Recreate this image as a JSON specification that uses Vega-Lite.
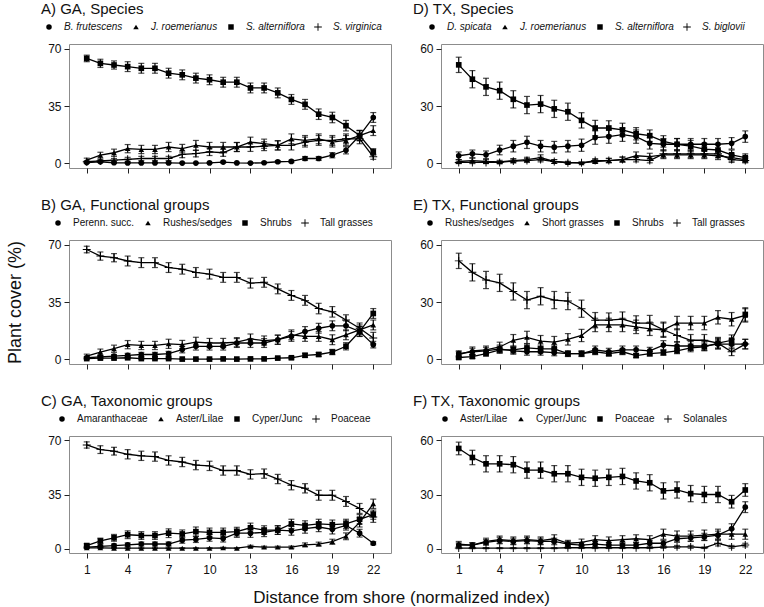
{
  "$schema": "https://vega.github.io/schema/vega-lite/v6.json",
  "padding": {"left": 6, "top": 1, "right": 2, "bottom": 0},
  "data": {
    "values": [
      {"p":"A","s":"B. frutescens","x":1,"y":0.5,"e":0.5},{"p":"A","s":"B. frutescens","x":2,"y":1,"e":0.5},{"p":"A","s":"B. frutescens","x":3,"y":0.4,"e":0.3},{"p":"A","s":"B. frutescens","x":4,"y":0.3,"e":0.3},{"p":"A","s":"B. frutescens","x":5,"y":0.3,"e":0.3},{"p":"A","s":"B. frutescens","x":6,"y":0.3,"e":0.3},{"p":"A","s":"B. frutescens","x":7,"y":0.3,"e":0.3},{"p":"A","s":"B. frutescens","x":8,"y":0.2,"e":0.2},{"p":"A","s":"B. frutescens","x":9,"y":0.2,"e":0.2},{"p":"A","s":"B. frutescens","x":10,"y":0.3,"e":0.3},{"p":"A","s":"B. frutescens","x":11,"y":0.8,"e":0.5},{"p":"A","s":"B. frutescens","x":12,"y":0.3,"e":0.3},{"p":"A","s":"B. frutescens","x":13,"y":0.2,"e":0.2},{"p":"A","s":"B. frutescens","x":14,"y":0.4,"e":0.4},{"p":"A","s":"B. frutescens","x":15,"y":1,"e":0.6},{"p":"A","s":"B. frutescens","x":16,"y":1.2,"e":0.7},{"p":"A","s":"B. frutescens","x":17,"y":3,"e":1.2},{"p":"A","s":"B. frutescens","x":18,"y":3,"e":1.2},{"p":"A","s":"B. frutescens","x":19,"y":5,"e":1.6},{"p":"A","s":"B. frutescens","x":20,"y":8,"e":2.2},{"p":"A","s":"B. frutescens","x":21,"y":17,"e":3},{"p":"A","s":"B. frutescens","x":22,"y":28,"e":3},
      {"p":"A","s":"J. roemerianus","x":1,"y":2,"e":1.2},{"p":"A","s":"J. roemerianus","x":2,"y":5,"e":1.8},{"p":"A","s":"J. roemerianus","x":3,"y":6.5,"e":2.2},{"p":"A","s":"J. roemerianus","x":4,"y":9,"e":2.5},{"p":"A","s":"J. roemerianus","x":5,"y":8.5,"e":2.5},{"p":"A","s":"J. roemerianus","x":6,"y":8.5,"e":2.5},{"p":"A","s":"J. roemerianus","x":7,"y":10,"e":2.8},{"p":"A","s":"J. roemerianus","x":8,"y":9,"e":2.6},{"p":"A","s":"J. roemerianus","x":9,"y":11,"e":3},{"p":"A","s":"J. roemerianus","x":10,"y":10,"e":2.8},{"p":"A","s":"J. roemerianus","x":11,"y":10,"e":2.8},{"p":"A","s":"J. roemerianus","x":12,"y":10,"e":2.8},{"p":"A","s":"J. roemerianus","x":13,"y":13,"e":3},{"p":"A","s":"J. roemerianus","x":14,"y":12,"e":2.8},{"p":"A","s":"J. roemerianus","x":15,"y":11,"e":2.8},{"p":"A","s":"J. roemerianus","x":16,"y":15,"e":3},{"p":"A","s":"J. roemerianus","x":17,"y":14,"e":3},{"p":"A","s":"J. roemerianus","x":18,"y":15,"e":3},{"p":"A","s":"J. roemerianus","x":19,"y":13,"e":3},{"p":"A","s":"J. roemerianus","x":20,"y":14,"e":3},{"p":"A","s":"J. roemerianus","x":21,"y":17,"e":3},{"p":"A","s":"J. roemerianus","x":22,"y":20,"e":3},
      {"p":"A","s":"S. alterniflora","x":1,"y":64,"e":2},{"p":"A","s":"S. alterniflora","x":2,"y":61,"e":2.5},{"p":"A","s":"S. alterniflora","x":3,"y":60,"e":2.5},{"p":"A","s":"S. alterniflora","x":4,"y":59,"e":3},{"p":"A","s":"S. alterniflora","x":5,"y":58,"e":3},{"p":"A","s":"S. alterniflora","x":6,"y":58,"e":3},{"p":"A","s":"S. alterniflora","x":7,"y":55,"e":3},{"p":"A","s":"S. alterniflora","x":8,"y":54,"e":3},{"p":"A","s":"S. alterniflora","x":9,"y":52,"e":3},{"p":"A","s":"S. alterniflora","x":10,"y":51,"e":3},{"p":"A","s":"S. alterniflora","x":11,"y":49.5,"e":3},{"p":"A","s":"S. alterniflora","x":12,"y":49.5,"e":3},{"p":"A","s":"S. alterniflora","x":13,"y":46,"e":3},{"p":"A","s":"S. alterniflora","x":14,"y":46,"e":3},{"p":"A","s":"S. alterniflora","x":15,"y":43,"e":3},{"p":"A","s":"S. alterniflora","x":16,"y":39,"e":3},{"p":"A","s":"S. alterniflora","x":17,"y":36,"e":3},{"p":"A","s":"S. alterniflora","x":18,"y":30,"e":3.2},{"p":"A","s":"S. alterniflora","x":19,"y":28,"e":3.2},{"p":"A","s":"S. alterniflora","x":20,"y":23,"e":3.2},{"p":"A","s":"S. alterniflora","x":21,"y":17,"e":3.2},{"p":"A","s":"S. alterniflora","x":22,"y":7,"e":2},
      {"p":"A","s":"S. virginica","x":1,"y":1,"e":0.6},{"p":"A","s":"S. virginica","x":2,"y":1.5,"e":0.8},{"p":"A","s":"S. virginica","x":3,"y":2,"e":1},{"p":"A","s":"S. virginica","x":4,"y":2.5,"e":1.2},{"p":"A","s":"S. virginica","x":5,"y":3,"e":1.3},{"p":"A","s":"S. virginica","x":6,"y":3,"e":1.3},{"p":"A","s":"S. virginica","x":7,"y":3,"e":1.3},{"p":"A","s":"S. virginica","x":8,"y":5.5,"e":2},{"p":"A","s":"S. virginica","x":9,"y":6,"e":2},{"p":"A","s":"S. virginica","x":10,"y":7,"e":2.2},{"p":"A","s":"S. virginica","x":11,"y":6.5,"e":2.2},{"p":"A","s":"S. virginica","x":12,"y":10,"e":2.7},{"p":"A","s":"S. virginica","x":13,"y":10,"e":2.7},{"p":"A","s":"S. virginica","x":14,"y":10.5,"e":2.7},{"p":"A","s":"S. virginica","x":15,"y":11,"e":2.8},{"p":"A","s":"S. virginica","x":16,"y":11,"e":2.8},{"p":"A","s":"S. virginica","x":17,"y":13,"e":3},{"p":"A","s":"S. virginica","x":18,"y":14,"e":3},{"p":"A","s":"S. virginica","x":19,"y":14,"e":3},{"p":"A","s":"S. virginica","x":20,"y":15,"e":3},{"p":"A","s":"S. virginica","x":21,"y":15,"e":3},{"p":"A","s":"S. virginica","x":22,"y":4,"e":1.5},

      {"p":"B","s":"Perenn. succ.","x":1,"y":1,"e":0.6},{"p":"B","s":"Perenn. succ.","x":2,"y":1.5,"e":0.8},{"p":"B","s":"Perenn. succ.","x":3,"y":2,"e":1},{"p":"B","s":"Perenn. succ.","x":4,"y":2.5,"e":1.2},{"p":"B","s":"Perenn. succ.","x":5,"y":3,"e":1.3},{"p":"B","s":"Perenn. succ.","x":6,"y":3,"e":1.3},{"p":"B","s":"Perenn. succ.","x":7,"y":3.5,"e":1.4},{"p":"B","s":"Perenn. succ.","x":8,"y":6,"e":2},{"p":"B","s":"Perenn. succ.","x":9,"y":8,"e":2.3},{"p":"B","s":"Perenn. succ.","x":10,"y":8,"e":2.3},{"p":"B","s":"Perenn. succ.","x":11,"y":8,"e":2.3},{"p":"B","s":"Perenn. succ.","x":12,"y":10,"e":2.7},{"p":"B","s":"Perenn. succ.","x":13,"y":10,"e":2.7},{"p":"B","s":"Perenn. succ.","x":14,"y":10,"e":2.7},{"p":"B","s":"Perenn. succ.","x":15,"y":12,"e":2.8},{"p":"B","s":"Perenn. succ.","x":16,"y":14,"e":3},{"p":"B","s":"Perenn. succ.","x":17,"y":17,"e":3},{"p":"B","s":"Perenn. succ.","x":18,"y":19,"e":3},{"p":"B","s":"Perenn. succ.","x":19,"y":20.5,"e":3},{"p":"B","s":"Perenn. succ.","x":20,"y":20.5,"e":3},{"p":"B","s":"Perenn. succ.","x":21,"y":17,"e":3},{"p":"B","s":"Perenn. succ.","x":22,"y":9,"e":2},
      {"p":"B","s":"Rushes/sedges","x":1,"y":2,"e":1.2},{"p":"B","s":"Rushes/sedges","x":2,"y":4.5,"e":1.8},{"p":"B","s":"Rushes/sedges","x":3,"y":6.5,"e":2.2},{"p":"B","s":"Rushes/sedges","x":4,"y":9,"e":2.5},{"p":"B","s":"Rushes/sedges","x":5,"y":8.5,"e":2.5},{"p":"B","s":"Rushes/sedges","x":6,"y":8.5,"e":2.5},{"p":"B","s":"Rushes/sedges","x":7,"y":9.5,"e":2.8},{"p":"B","s":"Rushes/sedges","x":8,"y":9,"e":2.6},{"p":"B","s":"Rushes/sedges","x":9,"y":10.5,"e":3},{"p":"B","s":"Rushes/sedges","x":10,"y":10,"e":2.8},{"p":"B","s":"Rushes/sedges","x":11,"y":10,"e":2.8},{"p":"B","s":"Rushes/sedges","x":12,"y":10.5,"e":2.8},{"p":"B","s":"Rushes/sedges","x":13,"y":12.5,"e":3},{"p":"B","s":"Rushes/sedges","x":14,"y":11.5,"e":2.8},{"p":"B","s":"Rushes/sedges","x":15,"y":12,"e":2.8},{"p":"B","s":"Rushes/sedges","x":16,"y":15,"e":3},{"p":"B","s":"Rushes/sedges","x":17,"y":14,"e":3},{"p":"B","s":"Rushes/sedges","x":18,"y":14,"e":3},{"p":"B","s":"Rushes/sedges","x":19,"y":12,"e":3},{"p":"B","s":"Rushes/sedges","x":20,"y":15,"e":3},{"p":"B","s":"Rushes/sedges","x":21,"y":18,"e":3},{"p":"B","s":"Rushes/sedges","x":22,"y":21,"e":3},
      {"p":"B","s":"Shrubs","x":1,"y":0.5,"e":0.4},{"p":"B","s":"Shrubs","x":2,"y":0.8,"e":0.5},{"p":"B","s":"Shrubs","x":3,"y":0.8,"e":0.5},{"p":"B","s":"Shrubs","x":4,"y":1,"e":0.6},{"p":"B","s":"Shrubs","x":5,"y":0.5,"e":0.4},{"p":"B","s":"Shrubs","x":6,"y":0.5,"e":0.4},{"p":"B","s":"Shrubs","x":7,"y":0.5,"e":0.4},{"p":"B","s":"Shrubs","x":8,"y":0.2,"e":0.2},{"p":"B","s":"Shrubs","x":9,"y":0.2,"e":0.2},{"p":"B","s":"Shrubs","x":10,"y":0.2,"e":0.2},{"p":"B","s":"Shrubs","x":11,"y":0.3,"e":0.3},{"p":"B","s":"Shrubs","x":12,"y":0.2,"e":0.2},{"p":"B","s":"Shrubs","x":13,"y":0.3,"e":0.3},{"p":"B","s":"Shrubs","x":14,"y":0.3,"e":0.3},{"p":"B","s":"Shrubs","x":15,"y":0.8,"e":0.5},{"p":"B","s":"Shrubs","x":16,"y":1,"e":0.7},{"p":"B","s":"Shrubs","x":17,"y":2.5,"e":1.2},{"p":"B","s":"Shrubs","x":18,"y":3,"e":1.2},{"p":"B","s":"Shrubs","x":19,"y":4.5,"e":1.6},{"p":"B","s":"Shrubs","x":20,"y":8,"e":2.2},{"p":"B","s":"Shrubs","x":21,"y":17,"e":3},{"p":"B","s":"Shrubs","x":22,"y":28,"e":3},
      {"p":"B","s":"Tall grasses","x":1,"y":67,"e":2},{"p":"B","s":"Tall grasses","x":2,"y":63,"e":2.5},{"p":"B","s":"Tall grasses","x":3,"y":62,"e":2.5},{"p":"B","s":"Tall grasses","x":4,"y":60,"e":3},{"p":"B","s":"Tall grasses","x":5,"y":59,"e":3},{"p":"B","s":"Tall grasses","x":6,"y":59,"e":3},{"p":"B","s":"Tall grasses","x":7,"y":56,"e":3},{"p":"B","s":"Tall grasses","x":8,"y":55,"e":3},{"p":"B","s":"Tall grasses","x":9,"y":53,"e":3},{"p":"B","s":"Tall grasses","x":10,"y":52,"e":3},{"p":"B","s":"Tall grasses","x":11,"y":50,"e":3},{"p":"B","s":"Tall grasses","x":12,"y":50,"e":3},{"p":"B","s":"Tall grasses","x":13,"y":46.5,"e":3},{"p":"B","s":"Tall grasses","x":14,"y":47,"e":3},{"p":"B","s":"Tall grasses","x":15,"y":43,"e":3},{"p":"B","s":"Tall grasses","x":16,"y":39,"e":3},{"p":"B","s":"Tall grasses","x":17,"y":36,"e":3},{"p":"B","s":"Tall grasses","x":18,"y":31,"e":3.2},{"p":"B","s":"Tall grasses","x":19,"y":29,"e":3.2},{"p":"B","s":"Tall grasses","x":20,"y":24,"e":3.2},{"p":"B","s":"Tall grasses","x":21,"y":19,"e":3.2},{"p":"B","s":"Tall grasses","x":22,"y":13,"e":3.5},

      {"p":"C","s":"Amaranthaceae","x":1,"y":1,"e":0.6},{"p":"C","s":"Amaranthaceae","x":2,"y":1.5,"e":0.8},{"p":"C","s":"Amaranthaceae","x":3,"y":2,"e":1},{"p":"C","s":"Amaranthaceae","x":4,"y":2.5,"e":1.2},{"p":"C","s":"Amaranthaceae","x":5,"y":3,"e":1.3},{"p":"C","s":"Amaranthaceae","x":6,"y":3,"e":1.3},{"p":"C","s":"Amaranthaceae","x":7,"y":3,"e":1.3},{"p":"C","s":"Amaranthaceae","x":8,"y":5.5,"e":2},{"p":"C","s":"Amaranthaceae","x":9,"y":6,"e":2},{"p":"C","s":"Amaranthaceae","x":10,"y":7,"e":2.2},{"p":"C","s":"Amaranthaceae","x":11,"y":6.5,"e":2.2},{"p":"C","s":"Amaranthaceae","x":12,"y":10,"e":2.7},{"p":"C","s":"Amaranthaceae","x":13,"y":10,"e":2.7},{"p":"C","s":"Amaranthaceae","x":14,"y":10.5,"e":2.7},{"p":"C","s":"Amaranthaceae","x":15,"y":12,"e":2.8},{"p":"C","s":"Amaranthaceae","x":16,"y":11.5,"e":2.8},{"p":"C","s":"Amaranthaceae","x":17,"y":13,"e":3},{"p":"C","s":"Amaranthaceae","x":18,"y":14,"e":3},{"p":"C","s":"Amaranthaceae","x":19,"y":12.5,"e":3},{"p":"C","s":"Amaranthaceae","x":20,"y":15,"e":3},{"p":"C","s":"Amaranthaceae","x":21,"y":10,"e":2.5},{"p":"C","s":"Amaranthaceae","x":22,"y":3.5,"e":1},
      {"p":"C","s":"Aster/Lilae","x":1,"y":0.5,"e":0.4},{"p":"C","s":"Aster/Lilae","x":2,"y":0.5,"e":0.4},{"p":"C","s":"Aster/Lilae","x":3,"y":0.3,"e":0.3},{"p":"C","s":"Aster/Lilae","x":4,"y":0.3,"e":0.3},{"p":"C","s":"Aster/Lilae","x":5,"y":0.3,"e":0.3},{"p":"C","s":"Aster/Lilae","x":6,"y":0.3,"e":0.3},{"p":"C","s":"Aster/Lilae","x":7,"y":0.3,"e":0.3},{"p":"C","s":"Aster/Lilae","x":8,"y":0.3,"e":0.3},{"p":"C","s":"Aster/Lilae","x":9,"y":0.3,"e":0.3},{"p":"C","s":"Aster/Lilae","x":10,"y":0.3,"e":0.3},{"p":"C","s":"Aster/Lilae","x":11,"y":0.5,"e":0.4},{"p":"C","s":"Aster/Lilae","x":12,"y":0.3,"e":0.3},{"p":"C","s":"Aster/Lilae","x":13,"y":1.5,"e":0.7},{"p":"C","s":"Aster/Lilae","x":14,"y":1,"e":0.6},{"p":"C","s":"Aster/Lilae","x":15,"y":1,"e":0.6},{"p":"C","s":"Aster/Lilae","x":16,"y":1,"e":0.7},{"p":"C","s":"Aster/Lilae","x":17,"y":2.5,"e":1.2},{"p":"C","s":"Aster/Lilae","x":18,"y":3,"e":1.2},{"p":"C","s":"Aster/Lilae","x":19,"y":4.5,"e":1.6},{"p":"C","s":"Aster/Lilae","x":20,"y":8,"e":2.2},{"p":"C","s":"Aster/Lilae","x":21,"y":17,"e":3},{"p":"C","s":"Aster/Lilae","x":22,"y":29,"e":3},
      {"p":"C","s":"Cyper/Junc","x":1,"y":2,"e":1.2},{"p":"C","s":"Cyper/Junc","x":2,"y":5,"e":1.8},{"p":"C","s":"Cyper/Junc","x":3,"y":7,"e":2.2},{"p":"C","s":"Cyper/Junc","x":4,"y":9,"e":2.5},{"p":"C","s":"Cyper/Junc","x":5,"y":8.5,"e":2.5},{"p":"C","s":"Cyper/Junc","x":6,"y":8.5,"e":2.5},{"p":"C","s":"Cyper/Junc","x":7,"y":10,"e":2.8},{"p":"C","s":"Cyper/Junc","x":8,"y":9.5,"e":2.6},{"p":"C","s":"Cyper/Junc","x":9,"y":11,"e":3},{"p":"C","s":"Cyper/Junc","x":10,"y":10.5,"e":2.8},{"p":"C","s":"Cyper/Junc","x":11,"y":10.5,"e":2.8},{"p":"C","s":"Cyper/Junc","x":12,"y":11,"e":2.8},{"p":"C","s":"Cyper/Junc","x":13,"y":13.5,"e":3},{"p":"C","s":"Cyper/Junc","x":14,"y":12,"e":2.8},{"p":"C","s":"Cyper/Junc","x":15,"y":12,"e":2.8},{"p":"C","s":"Cyper/Junc","x":16,"y":16,"e":3},{"p":"C","s":"Cyper/Junc","x":17,"y":15,"e":3},{"p":"C","s":"Cyper/Junc","x":18,"y":16,"e":3},{"p":"C","s":"Cyper/Junc","x":19,"y":15.5,"e":3},{"p":"C","s":"Cyper/Junc","x":20,"y":16,"e":3},{"p":"C","s":"Cyper/Junc","x":21,"y":19,"e":3},{"p":"C","s":"Cyper/Junc","x":22,"y":22,"e":3},
      {"p":"C","s":"Poaceae","x":1,"y":67,"e":2},{"p":"C","s":"Poaceae","x":2,"y":64,"e":2.5},{"p":"C","s":"Poaceae","x":3,"y":63,"e":2.5},{"p":"C","s":"Poaceae","x":4,"y":61,"e":3},{"p":"C","s":"Poaceae","x":5,"y":60,"e":3},{"p":"C","s":"Poaceae","x":6,"y":59.5,"e":3},{"p":"C","s":"Poaceae","x":7,"y":57,"e":3},{"p":"C","s":"Poaceae","x":8,"y":56,"e":3},{"p":"C","s":"Poaceae","x":9,"y":54,"e":3},{"p":"C","s":"Poaceae","x":10,"y":53.5,"e":3},{"p":"C","s":"Poaceae","x":11,"y":50.5,"e":3},{"p":"C","s":"Poaceae","x":12,"y":50.5,"e":3},{"p":"C","s":"Poaceae","x":13,"y":48,"e":3},{"p":"C","s":"Poaceae","x":14,"y":48.5,"e":3},{"p":"C","s":"Poaceae","x":15,"y":45,"e":3},{"p":"C","s":"Poaceae","x":16,"y":41,"e":3},{"p":"C","s":"Poaceae","x":17,"y":39,"e":3},{"p":"C","s":"Poaceae","x":18,"y":34.5,"e":3.2},{"p":"C","s":"Poaceae","x":19,"y":34.5,"e":3.2},{"p":"C","s":"Poaceae","x":20,"y":30.5,"e":3.2},{"p":"C","s":"Poaceae","x":21,"y":26,"e":3.2},{"p":"C","s":"Poaceae","x":22,"y":20.5,"e":3.5},

      {"p":"D","s":"D. spicata","x":1,"y":4,"e":2},{"p":"D","s":"D. spicata","x":2,"y":5,"e":2},{"p":"D","s":"D. spicata","x":3,"y":4.5,"e":2},{"p":"D","s":"D. spicata","x":4,"y":7,"e":2.5},{"p":"D","s":"D. spicata","x":5,"y":9,"e":3},{"p":"D","s":"D. spicata","x":6,"y":11,"e":3.2},{"p":"D","s":"D. spicata","x":7,"y":9,"e":3},{"p":"D","s":"D. spicata","x":8,"y":8.5,"e":3},{"p":"D","s":"D. spicata","x":9,"y":9,"e":3},{"p":"D","s":"D. spicata","x":10,"y":9.5,"e":3.2},{"p":"D","s":"D. spicata","x":11,"y":13.5,"e":3.5},{"p":"D","s":"D. spicata","x":12,"y":14,"e":3.5},{"p":"D","s":"D. spicata","x":13,"y":15,"e":3.5},{"p":"D","s":"D. spicata","x":14,"y":14,"e":3.5},{"p":"D","s":"D. spicata","x":15,"y":10.5,"e":3},{"p":"D","s":"D. spicata","x":16,"y":10,"e":3},{"p":"D","s":"D. spicata","x":17,"y":10,"e":3},{"p":"D","s":"D. spicata","x":18,"y":10,"e":3},{"p":"D","s":"D. spicata","x":19,"y":10,"e":3},{"p":"D","s":"D. spicata","x":20,"y":10,"e":3},{"p":"D","s":"D. spicata","x":21,"y":10.5,"e":3},{"p":"D","s":"D. spicata","x":22,"y":14,"e":3},
      {"p":"D","s":"J. roemerianus","x":1,"y":1,"e":1},{"p":"D","s":"J. roemerianus","x":2,"y":1.5,"e":1.2},{"p":"D","s":"J. roemerianus","x":3,"y":1,"e":1},{"p":"D","s":"J. roemerianus","x":4,"y":0.8,"e":0.8},{"p":"D","s":"J. roemerianus","x":5,"y":1.5,"e":1},{"p":"D","s":"J. roemerianus","x":6,"y":2,"e":1.2},{"p":"D","s":"J. roemerianus","x":7,"y":3,"e":1.5},{"p":"D","s":"J. roemerianus","x":8,"y":1,"e":1},{"p":"D","s":"J. roemerianus","x":9,"y":0.5,"e":0.6},{"p":"D","s":"J. roemerianus","x":10,"y":0.3,"e":0.4},{"p":"D","s":"J. roemerianus","x":11,"y":1,"e":1},{"p":"D","s":"J. roemerianus","x":12,"y":1.5,"e":1.2},{"p":"D","s":"J. roemerianus","x":13,"y":2,"e":1.4},{"p":"D","s":"J. roemerianus","x":14,"y":4,"e":2},{"p":"D","s":"J. roemerianus","x":15,"y":3.5,"e":1.8},{"p":"D","s":"J. roemerianus","x":16,"y":4.5,"e":2},{"p":"D","s":"J. roemerianus","x":17,"y":4.5,"e":2},{"p":"D","s":"J. roemerianus","x":18,"y":4.5,"e":2},{"p":"D","s":"J. roemerianus","x":19,"y":4.5,"e":2},{"p":"D","s":"J. roemerianus","x":20,"y":4,"e":2},{"p":"D","s":"J. roemerianus","x":21,"y":3,"e":1.8},{"p":"D","s":"J. roemerianus","x":22,"y":2,"e":1.5},
      {"p":"D","s":"S. alterniflora","x":1,"y":51.5,"e":4},{"p":"D","s":"S. alterniflora","x":2,"y":44,"e":4.5},{"p":"D","s":"S. alterniflora","x":3,"y":40,"e":4.5},{"p":"D","s":"S. alterniflora","x":4,"y":38,"e":4.5},{"p":"D","s":"S. alterniflora","x":5,"y":33.5,"e":4.5},{"p":"D","s":"S. alterniflora","x":6,"y":30.5,"e":4.5},{"p":"D","s":"S. alterniflora","x":7,"y":31,"e":4.5},{"p":"D","s":"S. alterniflora","x":8,"y":28.5,"e":4.5},{"p":"D","s":"S. alterniflora","x":9,"y":27,"e":4.5},{"p":"D","s":"S. alterniflora","x":10,"y":22.5,"e":4},{"p":"D","s":"S. alterniflora","x":11,"y":18.5,"e":4},{"p":"D","s":"S. alterniflora","x":12,"y":18.5,"e":3.8},{"p":"D","s":"S. alterniflora","x":13,"y":17.5,"e":3.5},{"p":"D","s":"S. alterniflora","x":14,"y":15.5,"e":3.2},{"p":"D","s":"S. alterniflora","x":15,"y":14.5,"e":3},{"p":"D","s":"S. alterniflora","x":16,"y":11.5,"e":3},{"p":"D","s":"S. alterniflora","x":17,"y":10,"e":3},{"p":"D","s":"S. alterniflora","x":18,"y":9,"e":3},{"p":"D","s":"S. alterniflora","x":19,"y":7.5,"e":3},{"p":"D","s":"S. alterniflora","x":20,"y":7,"e":3},{"p":"D","s":"S. alterniflora","x":21,"y":4.5,"e":2.5},{"p":"D","s":"S. alterniflora","x":22,"y":3,"e":2},
      {"p":"D","s":"S. biglovii","x":1,"y":0.5,"e":0.6},{"p":"D","s":"S. biglovii","x":2,"y":0.5,"e":0.6},{"p":"D","s":"S. biglovii","x":3,"y":0.5,"e":0.6},{"p":"D","s":"S. biglovii","x":4,"y":0.5,"e":0.6},{"p":"D","s":"S. biglovii","x":5,"y":1.2,"e":1},{"p":"D","s":"S. biglovii","x":6,"y":1.5,"e":1},{"p":"D","s":"S. biglovii","x":7,"y":2,"e":1.2},{"p":"D","s":"S. biglovii","x":8,"y":1,"e":1},{"p":"D","s":"S. biglovii","x":9,"y":0.3,"e":0.5},{"p":"D","s":"S. biglovii","x":10,"y":0.3,"e":0.4},{"p":"D","s":"S. biglovii","x":11,"y":1.5,"e":1},{"p":"D","s":"S. biglovii","x":12,"y":1.5,"e":1},{"p":"D","s":"S. biglovii","x":13,"y":2,"e":1.2},{"p":"D","s":"S. biglovii","x":14,"y":2,"e":1.2},{"p":"D","s":"S. biglovii","x":15,"y":1.5,"e":1.2},{"p":"D","s":"S. biglovii","x":16,"y":5,"e":2},{"p":"D","s":"S. biglovii","x":17,"y":5,"e":2},{"p":"D","s":"S. biglovii","x":18,"y":5,"e":2},{"p":"D","s":"S. biglovii","x":19,"y":5,"e":2},{"p":"D","s":"S. biglovii","x":20,"y":5,"e":2},{"p":"D","s":"S. biglovii","x":21,"y":2,"e":1.5},{"p":"D","s":"S. biglovii","x":22,"y":1.5,"e":1.2},

      {"p":"E","s":"Rushes/sedges","x":1,"y":3,"e":1.5},{"p":"E","s":"Rushes/sedges","x":2,"y":4,"e":1.8},{"p":"E","s":"Rushes/sedges","x":3,"y":4.5,"e":1.8},{"p":"E","s":"Rushes/sedges","x":4,"y":5.5,"e":2},{"p":"E","s":"Rushes/sedges","x":5,"y":4.5,"e":1.8},{"p":"E","s":"Rushes/sedges","x":6,"y":4,"e":1.8},{"p":"E","s":"Rushes/sedges","x":7,"y":4,"e":1.8},{"p":"E","s":"Rushes/sedges","x":8,"y":3.5,"e":1.6},{"p":"E","s":"Rushes/sedges","x":9,"y":3,"e":1.5},{"p":"E","s":"Rushes/sedges","x":10,"y":3,"e":1.5},{"p":"E","s":"Rushes/sedges","x":11,"y":5,"e":2},{"p":"E","s":"Rushes/sedges","x":12,"y":4,"e":1.8},{"p":"E","s":"Rushes/sedges","x":13,"y":5,"e":2},{"p":"E","s":"Rushes/sedges","x":14,"y":5,"e":2},{"p":"E","s":"Rushes/sedges","x":15,"y":4.5,"e":1.8},{"p":"E","s":"Rushes/sedges","x":16,"y":7.5,"e":2.3},{"p":"E","s":"Rushes/sedges","x":17,"y":7,"e":2.3},{"p":"E","s":"Rushes/sedges","x":18,"y":7,"e":2.3},{"p":"E","s":"Rushes/sedges","x":19,"y":7,"e":2.3},{"p":"E","s":"Rushes/sedges","x":20,"y":8,"e":2.5},{"p":"E","s":"Rushes/sedges","x":21,"y":8,"e":2.5},{"p":"E","s":"Rushes/sedges","x":22,"y":8,"e":2.5},
      {"p":"E","s":"Short grasses","x":1,"y":2.5,"e":1.5},{"p":"E","s":"Short grasses","x":2,"y":4.5,"e":2},{"p":"E","s":"Short grasses","x":3,"y":5,"e":2},{"p":"E","s":"Short grasses","x":4,"y":6.5,"e":2.5},{"p":"E","s":"Short grasses","x":5,"y":10,"e":3},{"p":"E","s":"Short grasses","x":6,"y":11.5,"e":3.2},{"p":"E","s":"Short grasses","x":7,"y":9.5,"e":3},{"p":"E","s":"Short grasses","x":8,"y":9,"e":3},{"p":"E","s":"Short grasses","x":9,"y":10.5,"e":3},{"p":"E","s":"Short grasses","x":10,"y":12.5,"e":3.2},{"p":"E","s":"Short grasses","x":11,"y":18,"e":3.5},{"p":"E","s":"Short grasses","x":12,"y":18,"e":3.5},{"p":"E","s":"Short grasses","x":13,"y":18,"e":3.5},{"p":"E","s":"Short grasses","x":14,"y":17,"e":3.5},{"p":"E","s":"Short grasses","x":15,"y":16,"e":3.5},{"p":"E","s":"Short grasses","x":16,"y":15.5,"e":3.5},{"p":"E","s":"Short grasses","x":17,"y":19,"e":3.5},{"p":"E","s":"Short grasses","x":18,"y":19,"e":3.5},{"p":"E","s":"Short grasses","x":19,"y":19,"e":3.5},{"p":"E","s":"Short grasses","x":20,"y":22,"e":3.5},{"p":"E","s":"Short grasses","x":21,"y":21,"e":3.5},{"p":"E","s":"Short grasses","x":22,"y":23,"e":3.5},
      {"p":"E","s":"Shrubs","x":1,"y":1,"e":0.8},{"p":"E","s":"Shrubs","x":2,"y":1.5,"e":1},{"p":"E","s":"Shrubs","x":3,"y":3,"e":1.2},{"p":"E","s":"Shrubs","x":4,"y":5,"e":1.8},{"p":"E","s":"Shrubs","x":5,"y":5,"e":1.8},{"p":"E","s":"Shrubs","x":6,"y":6,"e":2},{"p":"E","s":"Shrubs","x":7,"y":5.5,"e":2},{"p":"E","s":"Shrubs","x":8,"y":5.5,"e":2},{"p":"E","s":"Shrubs","x":9,"y":3,"e":1.2},{"p":"E","s":"Shrubs","x":10,"y":3,"e":1.2},{"p":"E","s":"Shrubs","x":11,"y":4,"e":1.5},{"p":"E","s":"Shrubs","x":12,"y":3,"e":1.2},{"p":"E","s":"Shrubs","x":13,"y":4,"e":1.5},{"p":"E","s":"Shrubs","x":14,"y":2,"e":1},{"p":"E","s":"Shrubs","x":15,"y":3,"e":1.2},{"p":"E","s":"Shrubs","x":16,"y":3.5,"e":1.3},{"p":"E","s":"Shrubs","x":17,"y":4.5,"e":1.5},{"p":"E","s":"Shrubs","x":18,"y":6,"e":2},{"p":"E","s":"Shrubs","x":19,"y":6.5,"e":2},{"p":"E","s":"Shrubs","x":20,"y":8.5,"e":2.5},{"p":"E","s":"Shrubs","x":21,"y":10,"e":2.8},{"p":"E","s":"Shrubs","x":22,"y":23.5,"e":3.5},
      {"p":"E","s":"Tall grasses","x":1,"y":51.5,"e":4},{"p":"E","s":"Tall grasses","x":2,"y":45.5,"e":4.5},{"p":"E","s":"Tall grasses","x":3,"y":41.5,"e":4.5},{"p":"E","s":"Tall grasses","x":4,"y":40,"e":4.5},{"p":"E","s":"Tall grasses","x":5,"y":35.5,"e":4.5},{"p":"E","s":"Tall grasses","x":6,"y":31,"e":4.5},{"p":"E","s":"Tall grasses","x":7,"y":33,"e":4.5},{"p":"E","s":"Tall grasses","x":8,"y":31,"e":4.5},{"p":"E","s":"Tall grasses","x":9,"y":30.5,"e":4.5},{"p":"E","s":"Tall grasses","x":10,"y":26.5,"e":4.5},{"p":"E","s":"Tall grasses","x":11,"y":20.5,"e":4},{"p":"E","s":"Tall grasses","x":12,"y":20.5,"e":3.8},{"p":"E","s":"Tall grasses","x":13,"y":21,"e":3.8},{"p":"E","s":"Tall grasses","x":14,"y":19,"e":3.8},{"p":"E","s":"Tall grasses","x":15,"y":19,"e":4},{"p":"E","s":"Tall grasses","x":16,"y":15.5,"e":4},{"p":"E","s":"Tall grasses","x":17,"y":12.5,"e":3.5},{"p":"E","s":"Tall grasses","x":18,"y":10,"e":3},{"p":"E","s":"Tall grasses","x":19,"y":10,"e":3},{"p":"E","s":"Tall grasses","x":20,"y":8.5,"e":3},{"p":"E","s":"Tall grasses","x":21,"y":4,"e":2},{"p":"E","s":"Tall grasses","x":22,"y":8,"e":2.5},

      {"p":"F","s":"Aster/Lilae","x":1,"y":2,"e":1.2},{"p":"F","s":"Aster/Lilae","x":2,"y":2,"e":1.2},{"p":"F","s":"Aster/Lilae","x":3,"y":3.5,"e":1.5},{"p":"F","s":"Aster/Lilae","x":4,"y":4.5,"e":1.8},{"p":"F","s":"Aster/Lilae","x":5,"y":4,"e":1.8},{"p":"F","s":"Aster/Lilae","x":6,"y":4.5,"e":1.8},{"p":"F","s":"Aster/Lilae","x":7,"y":4,"e":1.8},{"p":"F","s":"Aster/Lilae","x":8,"y":4,"e":1.8},{"p":"F","s":"Aster/Lilae","x":9,"y":2.5,"e":1.5},{"p":"F","s":"Aster/Lilae","x":10,"y":2,"e":1.5},{"p":"F","s":"Aster/Lilae","x":11,"y":2.5,"e":1.5},{"p":"F","s":"Aster/Lilae","x":12,"y":2,"e":1.5},{"p":"F","s":"Aster/Lilae","x":13,"y":2,"e":1.5},{"p":"F","s":"Aster/Lilae","x":14,"y":2,"e":1.5},{"p":"F","s":"Aster/Lilae","x":15,"y":3,"e":1.6},{"p":"F","s":"Aster/Lilae","x":16,"y":3,"e":1.6},{"p":"F","s":"Aster/Lilae","x":17,"y":5.5,"e":2},{"p":"F","s":"Aster/Lilae","x":18,"y":6,"e":2},{"p":"F","s":"Aster/Lilae","x":19,"y":6.5,"e":2},{"p":"F","s":"Aster/Lilae","x":20,"y":7.5,"e":2.2},{"p":"F","s":"Aster/Lilae","x":21,"y":11,"e":2.8},{"p":"F","s":"Aster/Lilae","x":22,"y":23,"e":3},
      {"p":"F","s":"Cyper/Junc","x":1,"y":2.5,"e":1.5},{"p":"F","s":"Cyper/Junc","x":2,"y":2,"e":1.3},{"p":"F","s":"Cyper/Junc","x":3,"y":4,"e":1.8},{"p":"F","s":"Cyper/Junc","x":4,"y":5,"e":2},{"p":"F","s":"Cyper/Junc","x":5,"y":4.5,"e":2},{"p":"F","s":"Cyper/Junc","x":6,"y":5,"e":2},{"p":"F","s":"Cyper/Junc","x":7,"y":4.5,"e":2},{"p":"F","s":"Cyper/Junc","x":8,"y":5.5,"e":2.2},{"p":"F","s":"Cyper/Junc","x":9,"y":3,"e":1.6},{"p":"F","s":"Cyper/Junc","x":10,"y":3.5,"e":1.8},{"p":"F","s":"Cyper/Junc","x":11,"y":5,"e":2.2},{"p":"F","s":"Cyper/Junc","x":12,"y":4.5,"e":2},{"p":"F","s":"Cyper/Junc","x":13,"y":5,"e":2.2},{"p":"F","s":"Cyper/Junc","x":14,"y":5.5,"e":2.2},{"p":"F","s":"Cyper/Junc","x":15,"y":5,"e":2.2},{"p":"F","s":"Cyper/Junc","x":16,"y":8,"e":2.8},{"p":"F","s":"Cyper/Junc","x":17,"y":7,"e":2.8},{"p":"F","s":"Cyper/Junc","x":18,"y":7,"e":2.8},{"p":"F","s":"Cyper/Junc","x":19,"y":7.5,"e":2.8},{"p":"F","s":"Cyper/Junc","x":20,"y":8,"e":2.8},{"p":"F","s":"Cyper/Junc","x":21,"y":8,"e":2.8},{"p":"F","s":"Cyper/Junc","x":22,"y":8,"e":2.8},
      {"p":"F","s":"Poaceae","x":1,"y":55.5,"e":3.5},{"p":"F","s":"Poaceae","x":2,"y":50.5,"e":4},{"p":"F","s":"Poaceae","x":3,"y":47,"e":4.5},{"p":"F","s":"Poaceae","x":4,"y":47,"e":4.5},{"p":"F","s":"Poaceae","x":5,"y":46.5,"e":4.5},{"p":"F","s":"Poaceae","x":6,"y":43.5,"e":4.5},{"p":"F","s":"Poaceae","x":7,"y":43.5,"e":4.5},{"p":"F","s":"Poaceae","x":8,"y":41.5,"e":4.5},{"p":"F","s":"Poaceae","x":9,"y":41.5,"e":4.5},{"p":"F","s":"Poaceae","x":10,"y":39.5,"e":4.5},{"p":"F","s":"Poaceae","x":11,"y":39,"e":4.5},{"p":"F","s":"Poaceae","x":12,"y":39.5,"e":4.5},{"p":"F","s":"Poaceae","x":13,"y":40,"e":4.5},{"p":"F","s":"Poaceae","x":14,"y":37.5,"e":4.5},{"p":"F","s":"Poaceae","x":15,"y":36.5,"e":4.5},{"p":"F","s":"Poaceae","x":16,"y":32,"e":4.5},{"p":"F","s":"Poaceae","x":17,"y":32.5,"e":4.5},{"p":"F","s":"Poaceae","x":18,"y":30.5,"e":4.5},{"p":"F","s":"Poaceae","x":19,"y":30,"e":4.5},{"p":"F","s":"Poaceae","x":20,"y":30,"e":4.5},{"p":"F","s":"Poaceae","x":21,"y":26,"e":3.5},{"p":"F","s":"Poaceae","x":22,"y":32.5,"e":3.5},
      {"p":"F","s":"Solanales","x":1,"y":0.3,"e":0.3},{"p":"F","s":"Solanales","x":2,"y":0.3,"e":0.3},{"p":"F","s":"Solanales","x":3,"y":0.3,"e":0.3},{"p":"F","s":"Solanales","x":4,"y":0.3,"e":0.3},{"p":"F","s":"Solanales","x":5,"y":0.3,"e":0.3},{"p":"F","s":"Solanales","x":6,"y":0.3,"e":0.3},{"p":"F","s":"Solanales","x":7,"y":0.3,"e":0.3},{"p":"F","s":"Solanales","x":8,"y":0.3,"e":0.3},{"p":"F","s":"Solanales","x":9,"y":0.5,"e":0.4},{"p":"F","s":"Solanales","x":10,"y":0.5,"e":0.4},{"p":"F","s":"Solanales","x":11,"y":0.5,"e":0.4},{"p":"F","s":"Solanales","x":12,"y":0.5,"e":0.4},{"p":"F","s":"Solanales","x":13,"y":0.5,"e":0.4},{"p":"F","s":"Solanales","x":14,"y":0.5,"e":0.4},{"p":"F","s":"Solanales","x":15,"y":0.5,"e":0.4},{"p":"F","s":"Solanales","x":16,"y":0.8,"e":0.6},{"p":"F","s":"Solanales","x":17,"y":1,"e":0.8},{"p":"F","s":"Solanales","x":18,"y":1,"e":0.8},{"p":"F","s":"Solanales","x":19,"y":0.5,"e":0.4},{"p":"F","s":"Solanales","x":20,"y":3,"e":1.5},{"p":"F","s":"Solanales","x":21,"y":1,"e":0.8},{"p":"F","s":"Solanales","x":22,"y":2,"e":1}
    ]
  },
  "bounds": "flush",
  "columns": 2,
  "spacing": {"row": 72, "column": 50},
  "concat": [
    {
      "width": 322, "height": 124,
      "title": {"text": "A) GA, Species"},
      "transform": [{"filter": "datum.p == 'A'"}],
      "encoding": {
        "x": {"field": "x", "type": "quantitative", "scale": {"domain": [-0.3, 23.3], "nice": false, "zero": false}, "axis": {"values": [1, 4, 7, 10, 13, 16, 19, 22], "labels": false, "title": null}},
        "y": {"field": "y", "type": "quantitative", "scale": {"domain": [-2.8, 72.8], "nice": false, "zero": false}, "axis": {"values": [0, 35, 70], "title": null}}
      },
      "layer": [
        {"mark": {"type": "errorbar", "ticks": {"size": 6}, "color": "black", "thickness": 1.2}, "encoding": {"yError": {"field": "e"}}},
        {"mark": {"type": "line", "color": "black", "strokeWidth": 1.3}, "encoding": {"detail": {"field": "s"}}},
        {"mark": {"type": "point", "filled": true, "color": "black", "opacity": 1, "size": 32},
         "encoding": {"shape": {"field": "s", "type": "nominal",
           "scale": {"domain": ["B. frutescens", "J. roemerianus", "S. alterniflora", "S. virginica"], "range": ["circle", "triangle-up", "square", "M-1.4,-0.17H1.4V0.17H-1.4ZM-0.17,-1.4H0.17V1.4H-0.17Z"]},
           "legend": {"legendX": -25, "legendY": -22, "labelFontStyle": "italic"}}}}
      ]
    },
    {
      "width": 322, "height": 124,
      "title": {"text": "D) TX, Species"},
      "transform": [{"filter": "datum.p == 'D'"}],
      "encoding": {
        "x": {"field": "x", "type": "quantitative", "scale": {"domain": [-0.3, 23.3], "nice": false, "zero": false}, "axis": {"values": [1, 4, 7, 10, 13, 16, 19, 22], "labels": false, "title": null}},
        "y": {"field": "y", "type": "quantitative", "scale": {"domain": [-2.4, 62.4], "nice": false, "zero": false}, "axis": {"values": [0, 30, 60], "title": null}}
      },
      "layer": [
        {"mark": {"type": "errorbar", "ticks": {"size": 6}, "color": "black", "thickness": 1.2}, "encoding": {"yError": {"field": "e"}}},
        {"mark": {"type": "line", "color": "black", "strokeWidth": 1.3}, "encoding": {"detail": {"field": "s"}}},
        {"mark": {"type": "point", "filled": true, "color": "black", "opacity": 1, "size": 32},
         "encoding": {"shape": {"field": "s", "type": "nominal",
           "scale": {"domain": ["D. spicata", "J. roemerianus", "S. alterniflora", "S. biglovii"], "range": ["circle", "triangle-up", "square", "M-1.4,-0.17H1.4V0.17H-1.4ZM-0.17,-1.4H0.17V1.4H-0.17Z"]},
           "legend": {"legendX": -14, "legendY": -22, "labelFontStyle": "italic"}}}}
      ]
    },
    {
      "width": 322, "height": 124,
      "title": {"text": "B) GA, Functional groups"},
      "transform": [{"filter": "datum.p == 'B'"}],
      "encoding": {
        "x": {"field": "x", "type": "quantitative", "scale": {"domain": [-0.3, 23.3], "nice": false, "zero": false}, "axis": {"values": [1, 4, 7, 10, 13, 16, 19, 22], "labels": false, "title": null}},
        "y": {"field": "y", "type": "quantitative", "scale": {"domain": [-2.8, 72.8], "nice": false, "zero": false}, "axis": {"values": [0, 35, 70], "title": "Plant cover (%)", "titleFontSize": 18, "titlePadding": 23}}
      },
      "layer": [
        {"mark": {"type": "errorbar", "ticks": {"size": 6}, "color": "black", "thickness": 1.2}, "encoding": {"yError": {"field": "e"}}},
        {"mark": {"type": "line", "color": "black", "strokeWidth": 1.3}, "encoding": {"detail": {"field": "s"}}},
        {"mark": {"type": "point", "filled": true, "color": "black", "opacity": 1, "size": 32},
         "encoding": {"shape": {"field": "s", "type": "nominal",
           "scale": {"domain": ["Perenn. succ.", "Rushes/sedges", "Shrubs", "Tall grasses"], "range": ["circle", "triangle-up", "square", "M-1.4,-0.17H1.4V0.17H-1.4ZM-0.17,-1.4H0.17V1.4H-0.17Z"]},
           "legend": {"legendX": -16, "legendY": -22}}}}
      ]
    },
    {
      "width": 322, "height": 124,
      "title": {"text": "E) TX, Functional groups"},
      "transform": [{"filter": "datum.p == 'E'"}],
      "encoding": {
        "x": {"field": "x", "type": "quantitative", "scale": {"domain": [-0.3, 23.3], "nice": false, "zero": false}, "axis": {"values": [1, 4, 7, 10, 13, 16, 19, 22], "labels": false, "title": null}},
        "y": {"field": "y", "type": "quantitative", "scale": {"domain": [-2.4, 62.4], "nice": false, "zero": false}, "axis": {"values": [0, 30, 60], "title": null}}
      },
      "layer": [
        {"mark": {"type": "errorbar", "ticks": {"size": 6}, "color": "black", "thickness": 1.2}, "encoding": {"yError": {"field": "e"}}},
        {"mark": {"type": "line", "color": "black", "strokeWidth": 1.3}, "encoding": {"detail": {"field": "s"}}},
        {"mark": {"type": "point", "filled": true, "color": "black", "opacity": 1, "size": 32},
         "encoding": {"shape": {"field": "s", "type": "nominal",
           "scale": {"domain": ["Rushes/sedges", "Short grasses", "Shrubs", "Tall grasses"], "range": ["circle", "triangle-up", "square", "M-1.4,-0.17H1.4V0.17H-1.4ZM-0.17,-1.4H0.17V1.4H-0.17Z"]},
           "legend": {"legendX": -16, "legendY": -22}}}}
      ]
    },
    {
      "width": 322, "height": 117,
      "title": {"text": "C) GA, Taxonomic groups"},
      "transform": [{"filter": "datum.p == 'C'"}],
      "encoding": {
        "x": {"field": "x", "type": "quantitative", "scale": {"domain": [-0.3, 23.3], "nice": false, "zero": false}, "axis": {"values": [1, 4, 7, 10, 13, 16, 19, 22], "labelPadding": 6, "title": "Distance from shore (normalized index)", "titleFontSize": 17, "titleX": 332, "titleY": 36, "titleAlign": "center", "titleBaseline": "top"}},
        "y": {"field": "y", "type": "quantitative", "scale": {"domain": [-2.8, 72.8], "nice": false, "zero": false}, "axis": {"values": [0, 35, 70], "title": null}}
      },
      "layer": [
        {"mark": {"type": "errorbar", "ticks": {"size": 6}, "color": "black", "thickness": 1.2}, "encoding": {"yError": {"field": "e"}}},
        {"mark": {"type": "line", "color": "black", "strokeWidth": 1.3}, "encoding": {"detail": {"field": "s"}}},
        {"mark": {"type": "point", "filled": true, "color": "black", "opacity": 1, "size": 32},
         "encoding": {"shape": {"field": "s", "type": "nominal",
           "scale": {"domain": ["Amaranthaceae", "Aster/Lilae", "Cyper/Junc", "Poaceae"], "range": ["circle", "triangle-up", "square", "M-1.4,-0.17H1.4V0.17H-1.4ZM-0.17,-1.4H0.17V1.4H-0.17Z"]},
           "legend": {"legendX": -12, "legendY": -22}}}}
      ]
    },
    {
      "width": 322, "height": 117,
      "title": {"text": "F) TX, Taxonomic groups"},
      "transform": [{"filter": "datum.p == 'F'"}],
      "encoding": {
        "x": {"field": "x", "type": "quantitative", "scale": {"domain": [-0.3, 23.3], "nice": false, "zero": false}, "axis": {"values": [1, 4, 7, 10, 13, 16, 19, 22], "labelPadding": 6, "title": null}},
        "y": {"field": "y", "type": "quantitative", "scale": {"domain": [-2.4, 62.4], "nice": false, "zero": false}, "axis": {"values": [0, 30, 60], "title": null}}
      },
      "layer": [
        {"mark": {"type": "errorbar", "ticks": {"size": 6}, "color": "black", "thickness": 1.2}, "encoding": {"yError": {"field": "e"}}},
        {"mark": {"type": "line", "color": "black", "strokeWidth": 1.3}, "encoding": {"detail": {"field": "s"}}},
        {"mark": {"type": "point", "filled": true, "color": "black", "opacity": 1, "size": 32},
         "encoding": {"shape": {"field": "s", "type": "nominal",
           "scale": {"domain": ["Aster/Lilae", "Cyper/Junc", "Poaceae", "Solanales"], "range": ["circle", "triangle-up", "square", "M-1.4,-0.17H1.4V0.17H-1.4ZM-0.17,-1.4H0.17V1.4H-0.17Z"]},
           "legend": {"legendX": -1, "legendY": -22}}}}
      ]
    }
  ],
  "resolve": {"scale": {"shape": "independent"}, "legend": {"shape": "independent"}},
  "config": {
    "font": "Liberation Sans",
    "view": {"stroke": "#8c8c8c", "strokeWidth": 1},
    "axis": {"grid": false, "domain": false, "tickColor": "#222222", "tickSize": 5, "labelFontSize": 12, "labelColor": "#111111", "labelPadding": 3, "titleFontWeight": "normal", "titleColor": "#111111"},
    "title": {"fontSize": 15, "fontWeight": "normal", "anchor": "start", "frame": "group", "dx": -28, "offset": 5, "color": "#111111"},
    "legend": {"orient": "none", "direction": "horizontal", "columns": 4, "title": null, "labelFontSize": 10, "labelColor": "#111111", "labelOffset": 10, "columnPadding": 8, "symbolSize": 30, "symbolFillColor": "black", "symbolStrokeWidth": 0, "symbolType": "circle"}
  }
}
